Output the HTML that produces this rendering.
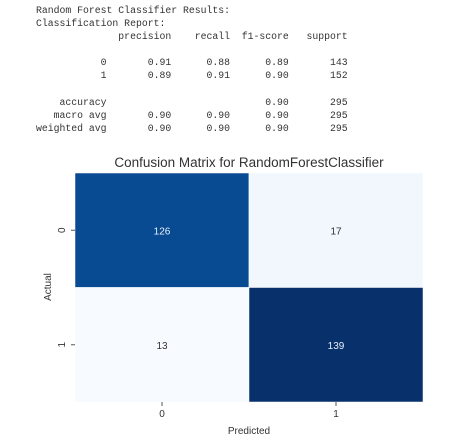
<!DOCTYPE html>
<html><head><meta charset="utf-8"><style>
body{margin:0;background:#fff;width:462px;height:441px;overflow:hidden;position:relative;font-family:"Liberation Sans","DejaVu Sans",sans-serif}
pre{position:absolute;left:36px;top:4px;margin:0;font-family:"Liberation Mono",monospace;font-size:9.8px;line-height:13.1px;color:#333}
svg{position:absolute;left:0;top:0}
</style></head><body>
<pre>Random Forest Classifier Results:
Classification Report:
              precision    recall  f1-score   support

           0       0.91      0.88      0.89       143
           1       0.89      0.91      0.90       152

    accuracy                           0.90       295
   macro avg       0.90      0.90      0.90       295
weighted avg       0.90      0.90      0.90       295
</pre>
<svg width="462" height="441">
<text x="249" y="167" text-anchor="middle" font-size="13.5" fill="#333">Confusion Matrix for RandomForestClassifier</text>
<g id="cells"></g>
<text x="249" y="434" text-anchor="middle" font-size="10" fill="#333">Predicted</text>
<text transform="translate(51,287) rotate(-90)" text-anchor="middle" font-size="10" fill="#333">Actual</text>
</svg>
<script>
const labels=["0","1"];
const matrix=[[126,17],[13,139]];
const x0=75,x1=423,y0=173,y1=402;
const cw=(x1-x0)/labels.length,ch=(y1-y0)/labels.length;
const stops=[[247,251,255],[222,235,247],[198,219,239],[158,202,225],[107,174,214],[66,146,198],[33,113,181],[8,81,156],[8,48,107]];
const flat=matrix.flat(),vmin=Math.min(...flat),vmax=Math.max(...flat);
function color(v){let t=(v-vmin)/(vmax-vmin)*(stops.length-1);let i=Math.min(Math.floor(t),stops.length-2),f=t-i;
const c=stops[i].map((a,k)=>Math.round(a+(stops[i+1][k]-a)*f));return `rgb(${c})`;}
const g=document.getElementById('cells'),NS="http://www.w3.org/2000/svg";
matrix.forEach((row,r)=>row.forEach((v,c)=>{
const rect=document.createElementNS(NS,'rect');


rect.setAttribute('x',x0+c*cw);rect.setAttribute('y',y0+r*ch);rect.setAttribute('width',cw);rect.setAttribute('height',ch);
rect.setAttribute('fill',color(v));rect.setAttribute('stroke','#ffffff');rect.setAttribute('stroke-width','0.5');g.appendChild(rect);
const t=document.createElementNS(NS,'text');


t.setAttribute('x',x0+(c+0.5)*cw);t.setAttribute('y',y0+(r+0.5)*ch+4);t.setAttribute('text-anchor','middle');t.setAttribute('font-size','10');
t.setAttribute('fill',(v-vmin)/(vmax-vmin)>0.5?'#e8eef8':'#333');t.textContent=v;g.appendChild(t);
}));
labels.forEach((l,i)=>{
const tx=document.createElementNS(NS,'text');


tx.setAttribute('x',x0+(i+0.5)*cw);tx.setAttribute('y',417);tx.setAttribute('text-anchor','middle');tx.setAttribute('font-size','10');tx.setAttribute('fill','#333');tx.textContent=l;g.appendChild(tx);
const tk=document.createElementNS(NS,'line');


tk.setAttribute('x1',x0+(i+0.5)*cw);tk.setAttribute('x2',x0+(i+0.5)*cw);tk.setAttribute('y1',y1);tk.setAttribute('y2',y1+4);tk.setAttribute('stroke','#555');g.appendChild(tk);
const ty=document.createElementNS(NS,'text');


const yy=y0+(i+0.5)*ch;
ty.setAttribute('transform',`translate(65,${yy}) rotate(-90)`);ty.setAttribute('text-anchor','middle');ty.setAttribute('font-size','10');ty.setAttribute('fill','#333');ty.textContent=l;g.appendChild(ty);
const tl=document.createElementNS(NS,'line');


tl.setAttribute('x1',x0-4);tl.setAttribute('x2',x0);tl.setAttribute('y1',yy);tl.setAttribute('y2',yy);tl.setAttribute('stroke','#555');g.appendChild(tl);
});
</script>
</body></html>
